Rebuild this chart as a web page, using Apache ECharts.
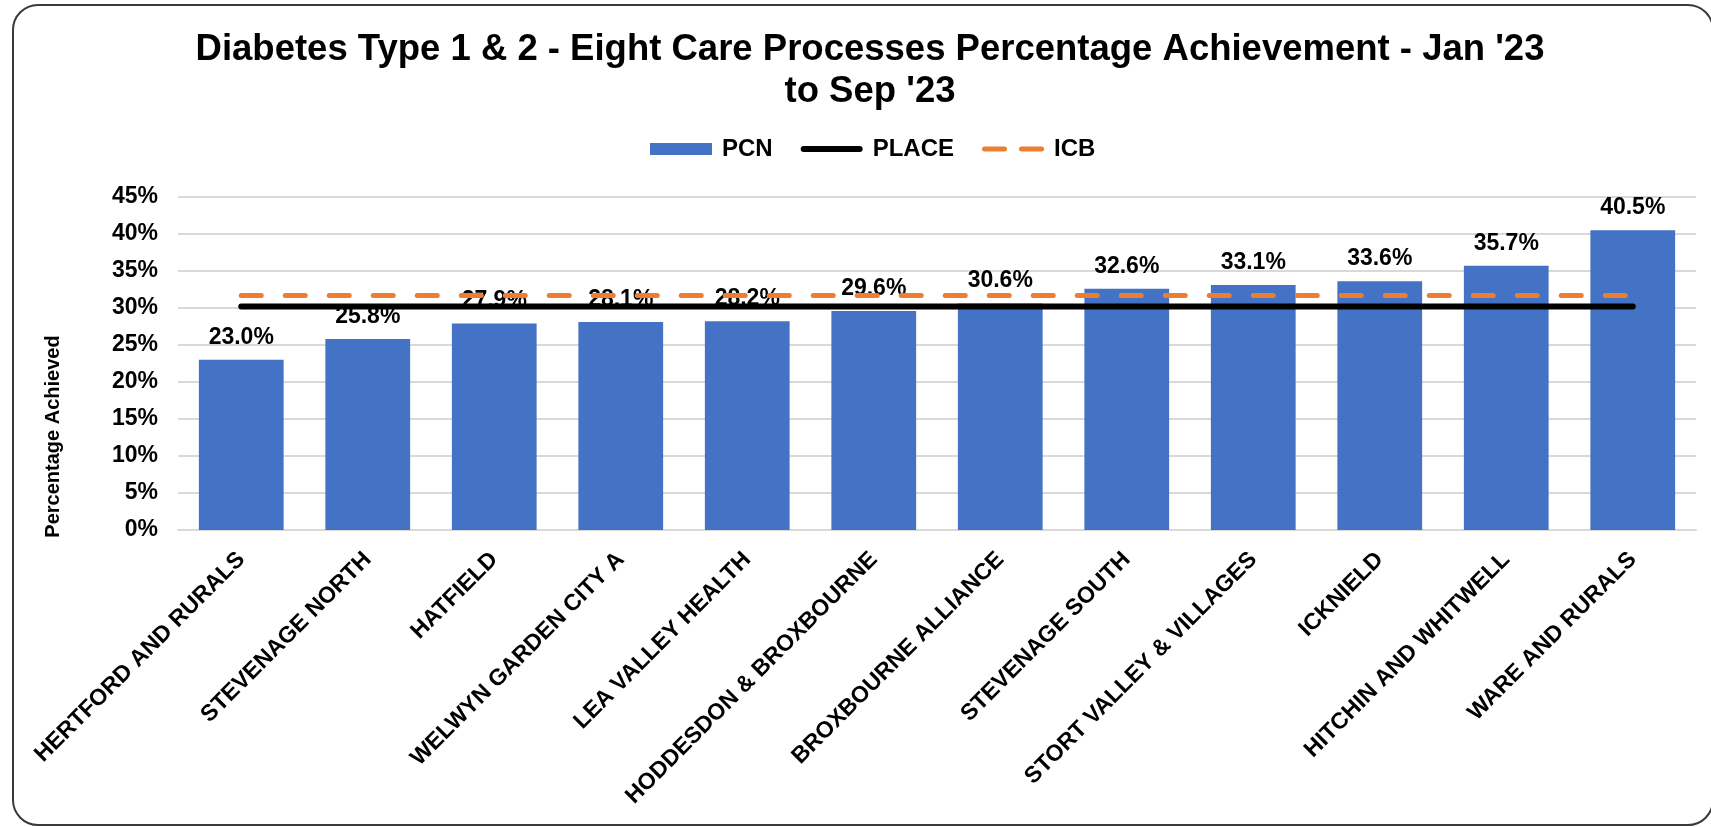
<!DOCTYPE html>
<html>
<head>
<meta charset="utf-8">
<script src="https://cdn.jsdelivr.net/npm/echarts@6/dist/echarts.min.js"></script>
<style>
  html, body { margin: 0; padding: 0; background: #fff; }
  #plot { width: 1711px; height: 827px; }
</style>
</head>
<body>
<div id="plot"></div>
<script>
const categories = [
  "HERTFORD AND RURALS", "STEVENAGE NORTH", "HATFIELD", "WELWYN GARDEN CITY A",
  "LEA VALLEY HEALTH", "HODDESDON & BROXBOURNE", "BROXBOURNE ALLIANCE",
  "STEVENAGE SOUTH", "STORT VALLEY & VILLAGES", "ICKNIELD",
  "HITCHIN AND WHITWELL", "WARE AND RURALS"
];
const pcn = [23.0, 25.8, 27.9, 28.1, 28.2, 29.6, 30.6, 32.6, 33.1, 33.6, 35.7, 40.5];
const place = [30.2, 30.2, 30.2, 30.2, 30.2, 30.2, 30.2, 30.2, 30.2, 30.2, 30.2, 30.2];
const icb = [31.7, 31.7, 31.7, 31.7, 31.7, 31.7, 31.7, 31.7, 31.7, 31.7, 31.7, 31.7];

const font = "'Liberation Sans', Arial, sans-serif";

// legend icons: tiny corner specks keep the 62x12 box so the shapes are not stretched
const corners = "M0,0L0.01,0L0,0.01Z M62,12L61.99,12L62,11.99Z ";
const placeIcon = "path://" + corners + "M3,3L59,3A3,3 0 0 1 59,9L3,9A3,3 0 0 1 3,3Z";
const icbIcon = "path://" + corners +
  "M2.5,3.5L22.5,3.5A2.5,2.5 0 0 1 22.5,8.5L2.5,8.5A2.5,2.5 0 0 1 2.5,3.5Z " +
  "M39.5,3.5L59.5,3.5A2.5,2.5 0 0 1 59.5,8.5L39.5,8.5A2.5,2.5 0 0 1 39.5,3.5Z";

const chart = echarts.init(document.getElementById("plot"));

chart.setOption({
  animation: false,
  textStyle: { fontFamily: font },
  graphic: [{
    type: "rect",
    shape: { x: 13, y: 5, width: 1700, height: 820, r: 25 },
    style: { fill: "none", stroke: "#3a3a3a", lineWidth: 2 },
    silent: true
  }],
  title: {
    text: "Diabetes Type 1 & 2 - Eight Care Processes Percentage Achievement - Jan '23\nto Sep '23",
    left: 870,
    top: 29,
    padding: 0,
    textAlign: "center",
    textStyle: { fontSize: 36.5, fontWeight: "bold", color: "#000", lineHeight: 42, fontFamily: font }
  },
  legend: {
    left: 650,
    top: 137,
    padding: 0,
    itemWidth: 62,
    itemHeight: 12,
    itemGap: 28,
    textStyle: { fontSize: 24, fontWeight: "bold", color: "#000", fontFamily: font, padding: [0, 0, 0, 5] },
    data: [
      { name: "PCN", icon: "rect" },
      { name: "PLACE", icon: placeIcon, itemStyle: { color: "#000", borderWidth: 0 } },
      { name: "ICB", icon: icbIcon, itemStyle: { color: "#ED7D31", borderWidth: 0 } }
    ]
  },
  grid: { left: 178, right: 15, top: 197, bottom: 297 },
  xAxis: {
    type: "category",
    data: categories,
    axisLine: { lineStyle: { color: "#d9d9d9", width: 2 } },
    axisTick: { show: false },
    axisLabel: {
      interval: 0,
      rotate: 45,
      margin: 26,
      fontSize: 23,
      fontWeight: "bold",
      color: "#000",
      fontFamily: font
    }
  },
  yAxis: {
    type: "value",
    min: 0,
    max: 45,
    interval: 5,
    name: "Percentage Achieved",
    nameLocation: "middle",
    nameRotate: 90,
    nameGap: 115,
    nameTextStyle: { fontSize: 20, fontWeight: "bold", color: "#000", fontFamily: font, padding: [0, 146, 0, 0] },
    axisLine: { show: false },
    axisTick: { show: false },
    axisLabel: { formatter: "{value}%", fontSize: 23, fontWeight: "bold", color: "#000", margin: 20, fontFamily: font },
    splitLine: { lineStyle: { color: "#d9d9d9", width: 2 } }
  },
  series: [
    {
      name: "PCN",
      type: "bar",
      data: pcn,
      barCategoryGap: "33%",
      itemStyle: { color: "#4472C4" },
      z: 2,
      label: {
        show: true,
        position: "top",
        distance: 11,
        fontSize: 23,
        fontWeight: "bold",
        color: "#000",
        fontFamily: font,
        formatter: p => p.value.toFixed(1) + "%"
      }
    },
    {
      name: "PLACE",
      type: "line",
      data: place,
      symbol: "none",
      z: 5,
      itemStyle: { color: "#000" },
      lineStyle: { color: "#000", width: 6, cap: "round" }
    },
    {
      name: "ICB",
      type: "line",
      data: icb,
      symbol: "none",
      z: 4,
      itemStyle: { color: "#ED7D31" },
      lineStyle: { color: "#ED7D31", width: 5, type: [20, 24], cap: "round" }
    }
  ]
});
</script>
</body>
</html>
